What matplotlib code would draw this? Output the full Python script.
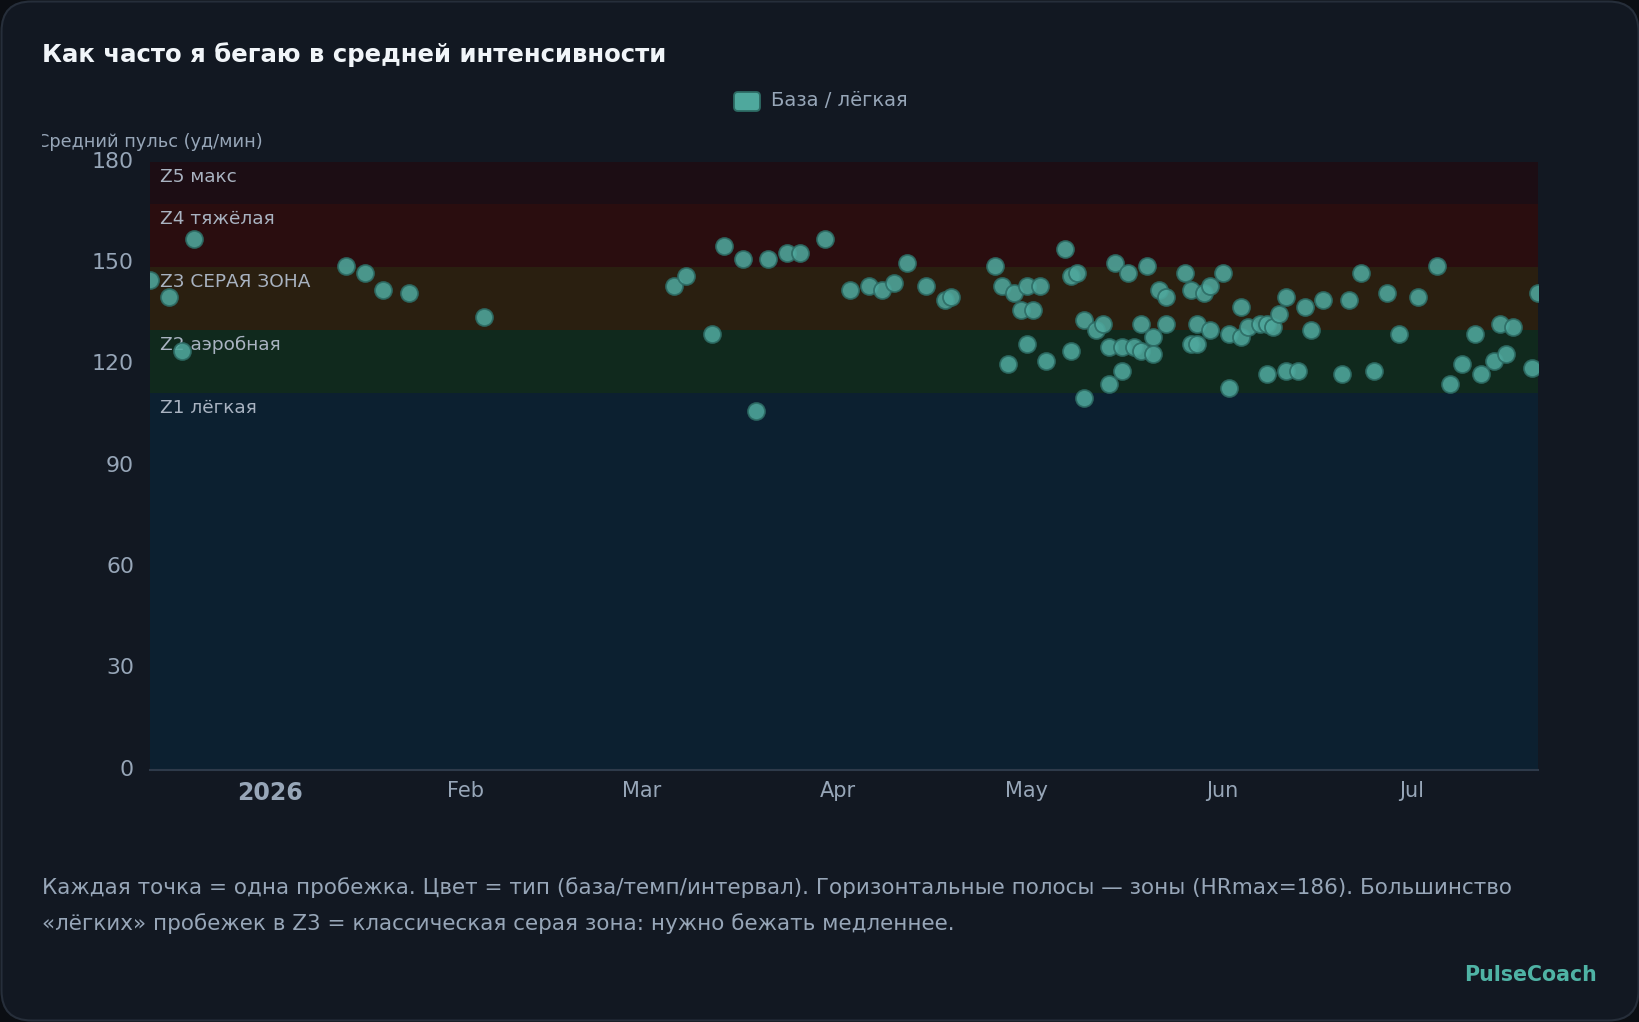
import numpy as np
import matplotlib.pyplot as plt
import matplotlib.dates as mdates
from matplotlib.patches import FancyBboxPatch
from matplotlib.transforms import (Bbox, IdentityTransform, blended_transform_factory,
                                   ScaledTranslation)

plt.rcParams['font.family'] = ['DejaVu Sans']

# ==========================================
# Data: one entry per run (date, average HR)
# ==========================================
RUN_DATES = [
    "2025-12-13", "2025-12-16", "2025-12-18", "2025-12-20",
    "2026-01-13", "2026-01-16", "2026-01-19", "2026-01-23", "2026-02-04",
    "2026-03-06", "2026-03-08", "2026-03-12", "2026-03-14", "2026-03-17",
    "2026-03-19", "2026-03-21", "2026-03-24", "2026-03-26", "2026-03-30",
    "2026-04-03", "2026-04-06", "2026-04-08", "2026-04-10", "2026-04-12",
    "2026-04-15", "2026-04-18", "2026-04-19",
    "2026-04-26", "2026-04-27", "2026-04-28", "2026-04-29", "2026-04-30",
    "2026-05-01", "2026-05-01", "2026-05-02", "2026-05-03", "2026-05-04",
    "2026-05-07", "2026-05-08", "2026-05-09", "2026-05-08", "2026-05-10",
    "2026-05-10", "2026-05-12", "2026-05-13", "2026-05-14", "2026-05-14",
    "2026-05-15", "2026-05-16", "2026-05-16", "2026-05-17", "2026-05-18",
    "2026-05-19", "2026-05-19", "2026-05-20", "2026-05-21", "2026-05-21",
    "2026-05-22", "2026-05-23", "2026-05-23", "2026-05-26", "2026-05-27",
    "2026-05-27", "2026-05-28", "2026-05-28", "2026-05-29", "2026-05-30",
    "2026-05-30", "2026-06-01", "2026-06-02", "2026-06-02", "2026-06-04",
    "2026-06-04", "2026-06-05", "2026-06-07", "2026-06-08", "2026-06-09",
    "2026-06-08", "2026-06-10", "2026-06-11", "2026-06-11", "2026-06-13",
    "2026-06-14", "2026-06-15", "2026-06-17", "2026-06-20", "2026-06-21",
    "2026-06-23", "2026-06-25", "2026-06-27", "2026-06-29", "2026-07-02",
    "2026-07-05", "2026-07-07", "2026-07-09", "2026-07-11", "2026-07-12",
    "2026-07-14", "2026-07-15", "2026-07-16", "2026-07-17", "2026-07-20",
    "2026-07-21",
]
AVG_HR = [
    145, 140, 124, 157,
    149, 147, 142, 141, 134,
    143, 146, 129, 155, 151,
    106, 151, 153, 153, 157,
    142, 143, 142, 144, 150,
    143, 139, 140,
    149, 143, 120, 141, 136,
    143, 126, 136, 143, 121,
    154, 146, 147, 124, 133,
    110, 130, 132, 125, 114,
    150, 125, 118, 147, 125,
    124, 132, 149, 128, 123,
    142, 140, 132, 147, 142,
    126, 132, 126, 141, 143,
    130, 147, 129, 113, 137,
    128, 131, 132, 132, 131,
    117, 135, 140, 118, 118,
    137, 130, 139, 117, 139,
    147, 118, 141, 129, 140,
    149, 114, 120, 129, 117,
    121, 132, 123, 131, 119,
    141,
]

# Zones (HRmax = 186)
ZONE_EDGES = [0, 111.6, 130.2, 148.8, 167.4, 186]
ZONE_LABELS = ["Z1 лёгкая", "Z2 аэробная", "Z3 СЕРАЯ ЗОНА", "Z4 тяжёлая", "Z5 макс"]
ZONE_COLORS = ["#0c2030", "#10291d", "#2a1f10", "#2a0d0f", "#1c0d14"]

Y_TICKS = [0, 30, 60, 90, 120, 150, 180]
X_TICK_DATES = ["2026-01-01", "2026-02-01", "2026-03-01", "2026-04-01",
                "2026-05-01", "2026-06-01", "2026-07-01"]
X_TICK_LABELS = ["2026", "Feb", "Mar", "Apr", "May", "Jun", "Jul"]

# colours
BG_OUT = "#0b0e13"
BG_CARD = "#121822"
TXT = "#97a6b8"
TEAL = "#4fa89d"

W, H = 1640, 1022
fig = plt.figure(figsize=(W / 100, H / 100), dpi=100)
fig.patch.set_facecolor(BG_OUT)

card = FancyBboxPatch((1.5, 1.5), W - 3, H - 3, boxstyle="round,pad=0,rounding_size=30",
                      transform=IdentityTransform(), facecolor=BG_CARD,
                      edgecolor="#262e3a", linewidth=1.5, zorder=-10)
fig.patches.append(card)

ax = fig.add_axes([150 / W, 1 - 769.5 / H, 1388 / W, 608 / H])
ax.set_facecolor("none")

# zone bands
for lo, hi, c in zip(ZONE_EDGES[:-1], ZONE_EDGES[1:], ZONE_COLORS):
    ax.axhspan(lo, hi, color=c, lw=0, zorder=0)

dates = mdates.date2num(np.array(RUN_DATES, dtype="datetime64[D]"))
ax.scatter(dates, AVG_HR, s=150, c=TEAL, alpha=0.88, edgecolors="#2d6b64",
           linewidths=1.3, zorder=3)

ax.set_xlim(dates.min(), dates.max())
ax.set_ylim(0, 180)

# zone labels (top-left of each band)
tr = blended_transform_factory(ax.transAxes, ax.transData)
for hi, lab in zip(ZONE_EDGES[1:], ZONE_LABELS):
    ax.annotate(lab, xy=(0, min(hi, 180)), xycoords=tr, xytext=(10, -15),
                textcoords="offset pixels", va="center", ha="left",
                color="#a9b3c1", fontsize=13.3, zorder=2)

ax.set_yticks(Y_TICKS)
ax.tick_params(axis="y", length=0, pad=11.5, labelsize=15.8, labelcolor=TXT)
shift_up = ScaledTranslation(0, 2 / 100, fig.dpi_scale_trans)
for lab in ax.get_yticklabels():
    lab.set_transform(lab.get_transform() + shift_up)

ax.set_xticks(mdates.date2num(np.array(X_TICK_DATES, dtype="datetime64[D]")))
ax.set_xticklabels(X_TICK_LABELS)
ax.tick_params(axis="x", length=0, pad=8.5, labelsize=15, labelcolor=TXT)
first = ax.get_xticklabels()[0]
first.set_fontweight("bold")
first.set_fontsize(17)

for side in ["left", "right", "top"]:
    ax.spines[side].set_visible(False)
ax.spines["bottom"].set_color("#2e3a4a")
ax.spines["bottom"].set_linewidth(1.5)

# title, y label, legend
fig.text(42 / W, 1 - 55 / H, "Как часто я бегаю в средней интенсивности",
         color="#f1f5f9", fontsize=17.6, fontweight="bold", va="center", ha="left")

ylab = fig.text(37 / W, 1 - 142 / H, "Средний пульс (уд/мин)", color=TXT,
                fontsize=12.8, va="center", ha="left", clip_on=True)
ylab.set_clip_box(Bbox.from_extents(42, 0, W, H))

leg_box = FancyBboxPatch((734, H - 111), 26, 19, boxstyle="round,pad=0,rounding_size=4",
                         transform=IdentityTransform(), facecolor=TEAL,
                         edgecolor="#2d6b64", linewidth=1.3)
fig.patches.append(leg_box)
fig.text(771 / W, 1 - 101 / H, "База / лёгкая", color=TXT, fontsize=14,
         va="center", ha="left")

# footnote
fig.text(42 / W, 1 - 888 / H,
         "Каждая точка = одна пробежка. Цвет = тип (база/темп/интервал). "
         "Горизонтальные полосы — зоны (HRmax=186). Большинство",
         color=TXT, fontsize=15.5, va="center", ha="left")
fig.text(42 / W, 1 - 924 / H,
         "«лёгких» пробежек в Z3 = классическая серая зона: нужно бежать медленнее.",
         color=TXT, fontsize=15.5, va="center", ha="left")

fig.text(1597 / W, 1 - 975 / H, "PulseCoach", color="#4fb3a5", fontsize=14.8,
         fontweight="bold", va="center", ha="right")

fig.savefig("out.png", dpi=100, facecolor=fig.get_facecolor())
